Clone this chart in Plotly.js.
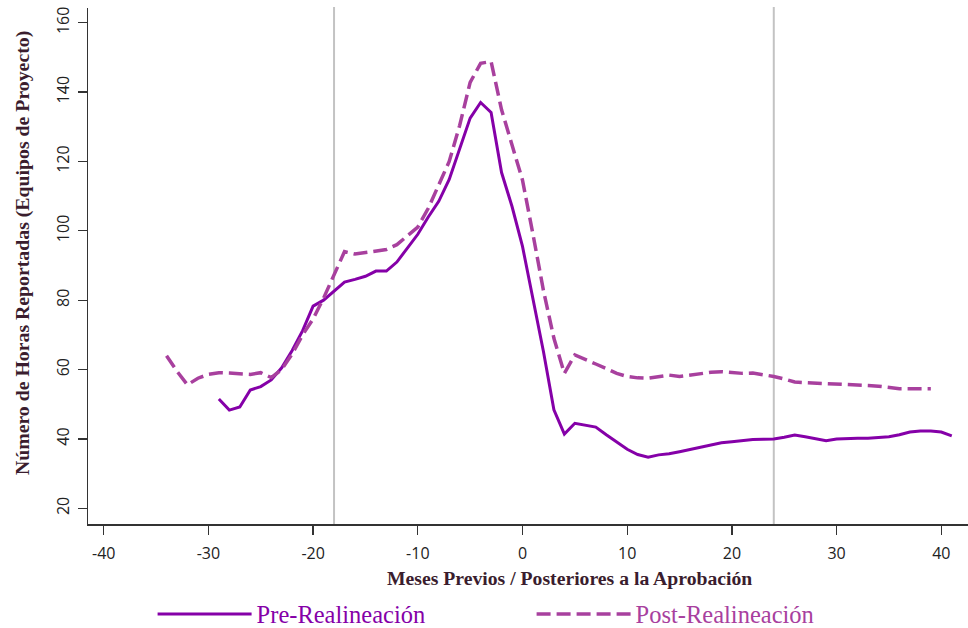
<!DOCTYPE html>
<html>
<head>
<meta charset="utf-8">
<script src="https://cdn.plot.ly/plotly-3.0.1.min.js"></script>
<style>html,body{margin:0;padding:0;background:#fff;}#chart{width:968px;height:628px;}</style>
</head>
<body>
<div id="chart"></div>
<script>
// Months relative to approval
const preMonths = [-29,-28,-27,-26,-25,-24,-23,-22,-21,-20,-19,-18,-17,-16,-15,-14,-13,-12,-11,-10,-9,-8,-7,-6,-5,-4,-3,-2,-1,0,1,2,3,4,5,6,7,8,9,10,11,12,13,14,15,16,17,18,19,20,21,22,23,24,25,26,27,28,29,30,31,32,33,34,35,36,37,38,39,40,41];
const preHours = [51.5,48.3,49.2,54.1,55.1,57.0,60.5,65.5,71.2,78.3,80.0,82.6,85.2,86.0,86.9,88.4,88.4,91.0,94.9,99.0,104.0,108.5,114.8,123.5,132.5,137.0,134.1,116.8,107.0,95.5,80.5,65.2,48.4,41.4,44.5,44.0,43.4,41.2,39.0,37.0,35.5,34.7,35.4,35.7,36.3,36.9,37.6,38.3,38.9,39.2,39.6,39.8,39.9,40.0,40.5,41.1,40.6,40.0,39.5,40.0,40.2,40.2,40.2,40.4,40.6,41.2,42.0,42.3,42.3,42.0,40.9];

const postMonths = [-34,-33,-32,-31,-30,-29,-28,-27,-26,-25,-24,-23,-22,-21,-20,-19,-18,-17,-16,-15,-14,-13,-12,-11,-10,-9,-8,-7,-6,-5,-4,-3,-2,-1,0,1,2,3,4,5,6,7,8,9,10,11,12,13,14,15,16,17,18,19,20,21,22,23,24,25,26,27,28,29,30,31,32,33,34,35,36,37,38,39];
const postHours = [64.0,59.5,55.6,57.5,58.6,59.1,59.0,58.8,58.6,59.1,57.7,60.0,64.5,70.0,74.6,80.6,87.6,94.0,93.3,93.7,94.0,94.6,96.0,98.7,101.1,106.5,113.0,120.0,130.4,142.8,148.3,148.8,134.9,124.9,114.6,99.0,82.8,69.0,58.9,64.2,63.0,61.6,60.3,58.9,58.0,57.6,57.5,58.0,58.4,58.0,58.4,58.9,59.2,59.4,59.2,58.9,59.0,58.6,58.0,57.3,56.4,56.2,56.1,55.9,55.8,55.8,55.7,55.4,55.2,54.8,54.5,54.5,54.5,54.5];

const seriesNames = ["Pre-Realineación", "Post-Realineación"];
const referenceMonths = [-18, 24];

const xTitle = "Meses Previos / Posteriores a la Aprobación";
const yTitle = "Número de Horas Reportadas (Equipos de Proyecto)";

const xTickVals = [-40,-30,-20,-10,0,10,20,30,40];
const xTickText = ["-40","-30","-20","-10","0","10","20","30","40"];
const yTickVals = [20,40,60,80,100,120,140,160];
const yTickText = ["20","40","60","80","100","120","140","160"];

const preColor = "#8500a8";
const postColor = "#a8409e";
const titleColor = "#3a1d2e";

const traces = [
  {x: preMonths, y: preHours, type: "scatter", mode: "lines", name: seriesNames[0],
   line: {color: preColor, width: 3}},
  {x: postMonths, y: postHours, type: "scatter", mode: "lines", name: seriesNames[1],
   line: {color: postColor, width: 3.5, dash: "14px,6px"}}
];

const shapes = referenceMonths.map(m => ({
  type: "line", xref: "x", yref: "paper", x0: m, x1: m, y0: 0, y1: 1.002,
  line: {color: "#c3c3c3", width: 2}, layer: "below"
}));

const annotations = [
  {text: "<b>" + xTitle + "</b>", xref: "paper", yref: "paper", x: 0.5466, y: -0.1047,
   xanchor: "center", yanchor: "middle", showarrow: false,
   font: {family: "Liberation Serif, serif", size: 19.7, color: titleColor}},
  {text: "<b>" + yTitle + "</b>", xref: "paper", yref: "paper", x: -0.075, y: 0.525,
   xanchor: "center", yanchor: "middle", showarrow: false, textangle: -90,
   font: {family: "Liberation Serif, serif", size: 19.8, color: titleColor}}
];

const layout = {
  width: 968, height: 628,
  margin: {l: 88, r: 0, t: 8, b: 104, autoexpand: false},
  paper_bgcolor: "#ffffff", plot_bgcolor: "#ffffff",
  showlegend: true,
  legend: {
    orientation: "h", x: 0.0734, xanchor: "left", y: -0.1744, yanchor: "middle",
    itemwidth: 94, entrywidth: 270, entrywidthmode: "pixels",
    font: {family: "Liberation Serif, serif", size: 24.5},
    itemclick: false, itemdoubleclick: false, bgcolor: "rgba(0,0,0,0)"
  },
  xaxis: {
    range: [-41.5, 42.55], showgrid: false, zeroline: false,
    showline: true, linecolor: "#333333", linewidth: 1.5,
    ticks: "outside", ticklen: 9, tickwidth: 1.3, tickcolor: "#333333",
    tickvals: xTickVals, ticktext: xTickText, ticklabelstandoff: 5,
    tickfont: {family: "Open Sans, sans-serif", size: 16, color: "#222222"}
  },
  yaxis: {
    range: [15.47, 164.24], showgrid: false, zeroline: false,
    showline: true, linecolor: "#333333", linewidth: 1.5,
    ticks: "outside", ticklen: 9, tickwidth: 1.3, tickcolor: "#333333",
    tickvals: yTickVals, ticktext: yTickText, tickangle: -90, ticklabelstandoff: 2,
    tickfont: {family: "Open Sans, sans-serif", size: 16, color: "#222222"}
  },
  shapes: shapes,
  annotations: annotations
};

Plotly.newPlot("chart", traces, layout, {displayModeBar: false, staticPlot: true});

function colorLegend() {
  const texts = document.querySelectorAll("#chart .legendtext");
  const cols = [preColor, postColor];
  texts.forEach((t, i) => { t.style.fill = cols[i] || "#000"; });
}
colorLegend();
</script>
</body>
</html>
